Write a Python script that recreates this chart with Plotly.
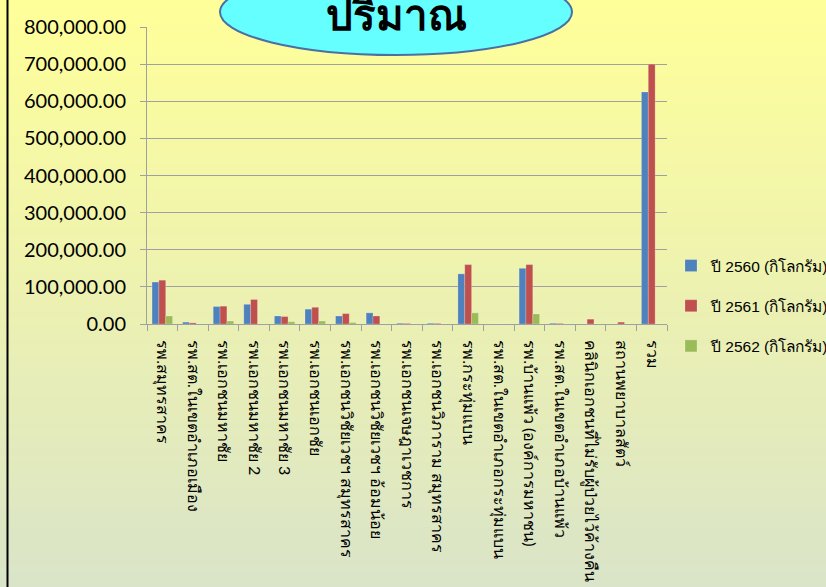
import plotly.graph_objects as go

categories = [
    "รพ.สมุทรสาคร",
    "รพ.สต.ในเขตอำเภอเมือง",
    "รพ.เอกชนมหาชัย",
    "รพ.เอกชนมหาชัย 2",
    "รพ.เอกชนมหาชัย 3",
    "รพ.เอกชนเอกชัย",
    "รพ.เอกชนวิชัยเวชฯ สมุทรสาคร",
    "รพ.เอกชนวิชัยเวชฯ อ้อมน้อย",
    "รพ.เอกชนเจษฎาเวชการ",
    "รพ.เอกชนวิภาราม สมุทรสาคร",
    "รพ.กระทุ่มแบน",
    "รพ.สต.ในเขตอำเภอกระทุ่มแบน",
    "รพ.บ้านแพ้ว (องค์การมหาชน)",
    "รพ.สต.ในเขตอำเภอบ้านแพ้ว",
    "คลินิกเอกชนที่ไม่รับผู้ป่วยไว้ค้างคืน",
    "สถานพยาบาลสัตว์",
    "รวม",
]
series_names = ["ปี 2560 (กิโลกรัม)", "ปี 2561 (กิโลกรัม)", "ปี 2562 (กิโลกรัม)"]
values_2560 = [113000, 5000, 47000, 53000, 21500, 40000, 21500, 30000, 2000, 2000, 135000, 0, 150000, 2000, 0, 0, 625000]
values_2561 = [118000, 3000, 48000, 66000, 20000, 45000, 28000, 21500, 1500, 1500, 160000, 0, 160000, 1500, 13000, 5000, 700000]
values_2562 = [21500, 0, 8000, 0, 6000, 8000, 4000, 0, 0, 0, 30000, 0, 27000, 0, 0, 0, 0]
colors = ["#4F81BD", "#C0504D", "#9BBB59"]

W, H = 826, 587
L, R, T, B = 147, 667, 27, 324
pw, ph = R - L, B - T

def px(x):
    return (x - L) / pw

def py(y):
    return (B - y) / ph

fig = go.Figure()
for name, vals, col in zip(series_names, [values_2560, values_2561, values_2562], colors):
    fig.add_trace(go.Bar(
        x=categories, y=vals, name=name, legendgroup=name,
        marker=dict(color=col, line=dict(color="rgba(255,255,255,0.35)", width=0.6)),
    ))

# gradient background bands
shapes = []
n = 90
c0 = (255, 255, 153)
c1 = (218, 228, 200)
for i in range(n):
    t = i / (n - 1)
    c = tuple(round(c0[k] + (c1[k] - c0[k]) * t) for k in range(3))
    y0 = i * H / n
    y1 = (i + 1) * H / n + 1
    shapes.append(dict(type="rect", xref="paper", yref="paper", layer="below",
                       x0=px(-5), x1=px(W + 5), y0=py(y0 - 1), y1=py(y1),
                       fillcolor="rgb(%d,%d,%d)" % c, line=dict(width=0)))
# left black border
shapes.append(dict(type="line", xref="paper", yref="paper", x0=px(7.5), x1=px(7.5),
                   y0=py(-2), y1=py(H + 2), line=dict(color="black", width=2)))
# title bubble
shapes.append(dict(type="circle", xref="paper", yref="paper",
                   x0=px(220), x1=px(572), y0=py(-31), y1=py(55),
                   fillcolor="#66FFFF", line=dict(color="#4A6FA5", width=2)))

fig.update_layout(
    width=W, height=H,
    margin=dict(l=L, r=W - R, t=T, b=H - B, autoexpand=False),
    paper_bgcolor="rgba(0,0,0,0)", plot_bgcolor="rgba(0,0,0,0)",
    barmode="group", bargap=0.33, bargroupgap=0,
    shapes=shapes,
    font=dict(family="Lato, Noto Sans, sans-serif", color="black"),
    showlegend=True,
    legend=dict(x=px(671), y=py(249), xanchor="left", yanchor="top",
                font=dict(size=15.5, family="Liberation Sans, Noto Sans, sans-serif"),
                tracegroupgap=17, bgcolor="rgba(0,0,0,0)"),
    annotations=[dict(text="<b>ปริมาณ</b>", xref="paper", yref="paper",
                      x=px(396), y=py(14), xanchor="center", yanchor="middle",
                      showarrow=False, font=dict(size=42, color="black"))],
)
fig.update_yaxes(range=[0, 800000], tickvals=[i * 100000 for i in range(9)],
                 tickformat=",.2f", showgrid=True, gridcolor="#A0A0A0", gridwidth=1,
                 showline=True, linecolor="#A0A0A0", ticks="outside", ticklen=6,
                 tickcolor="#A0A0A0", tickfont=dict(size=20), ticklabelstandoff=10,
                 zeroline=False)
fig.update_xaxes(tickangle=90, tickson="boundaries", ticks="outside", ticklen=6,
                 tickcolor="#A0A0A0", showline=True, linecolor="#A0A0A0",
                 showgrid=False, tickfont=dict(size=16), ticklabelstandoff=12)

fig.write_html("out.html", config={"displayModeBar": False},
               post_script="document.body.style.margin='0';document.body.style.overflow='hidden';")
